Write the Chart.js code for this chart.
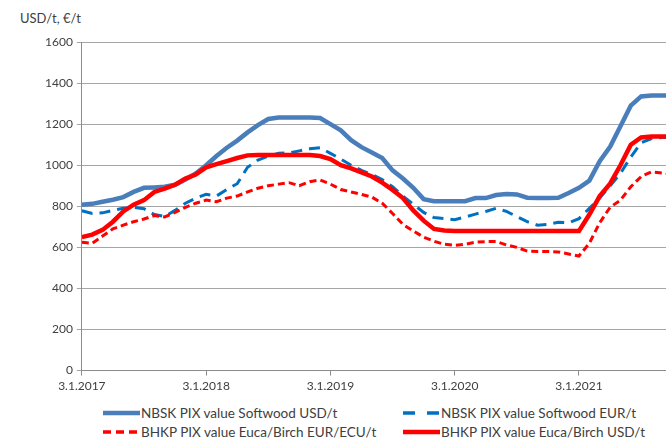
<!DOCTYPE html>
<html>
<head>
<meta charset="utf-8">
<script src="https://cdn.jsdelivr.net/npm/chart.js@4.4.0/dist/chart.umd.min.js"></script>
<style>
  html, body { margin: 0; padding: 0; background: #fff; overflow: hidden; }
  body { width: 666px; height: 439px; position: relative; font-family: Lato, sans-serif; color: #404040; }
  #chart { position: absolute; left: 0; top: 0; }
  #ytitle { position: absolute; left: 20px; top: 10px; font-size: 13px; }
  .leg { position: absolute; font-size: 13.5px; white-space: nowrap; display: flex; align-items: center; height: 16px; }
  .leg svg { margin-right: 1px; }
</style>
</head>
<body>
<div id="ytitle">USD/t, €/t</div>
<canvas id="chart" width="666" height="396"></canvas>
<div id="legend"></div>
<script>
// x axis: year positions and their labels
const yearTicks = [2017, 2018, 2019, 2020, 2021];
const tickLabels = ['3.1.2017', '3.1.2018', '3.1.2019', '3.1.2020', '3.1.2021'];

// monthly readings, Jan 2017 .. Oct 2021
const nbskUsd = [808, 812, 822, 832, 845, 870, 890, 892, 895, 905, 930, 960,
                 1000, 1045, 1085, 1120, 1160, 1195, 1225, 1232, 1232, 1232, 1232, 1230,
                 1200, 1170, 1122, 1088, 1062, 1035, 975, 935, 890, 835, 825, 825,
                 825, 825, 840, 840, 855, 860, 858, 842, 840, 840, 842, 865,
                 890, 925, 1020, 1090, 1190, 1290, 1335, 1340, 1340, 1340];
const nbskEur = [778, 765, 768, 780, 790, 795, 788, 760, 750, 780, 815, 840,
                 858, 850, 882, 910, 990, 1025, 1045, 1058, 1060, 1070, 1080, 1085,
                 1058, 1030, 1000, 975, 955, 930, 895, 850, 810, 770, 745, 740,
                 735, 748, 762, 775, 790, 775, 750, 725, 708, 712, 722, 720,
                 740, 790, 840, 900, 960, 1040, 1110, 1130, 1135, 1135];
const bhkpEur = [625, 620, 655, 690, 708, 725, 738, 755, 748, 770, 795, 815,
                 830, 822, 840, 850, 870, 888, 900, 908, 915, 900, 920, 928,
                 908, 882, 870, 858, 845, 815, 765, 712, 680, 650, 630, 615,
                 610, 615, 625, 628, 628, 612, 600, 582, 580, 580, 578, 568,
                 558, 620, 720, 795, 830, 895, 945, 968, 962, 955];
const bhkpUsd = [650, 662, 685, 725, 775, 808, 830, 870, 886, 905, 935, 955,
                 990, 1005, 1020, 1035, 1048, 1050, 1050, 1050, 1050, 1050, 1050, 1045,
                 1030, 1000, 985, 965, 945, 915, 880, 840, 780, 730, 690, 682,
                 680, 680, 680, 680, 680, 680, 680, 680, 680, 680, 680, 680,
                 680, 760, 850, 910, 1000, 1100, 1135, 1140, 1140, 1140];

const seriesNames = ['NBSK PIX value Softwood USD/t', 'NBSK PIX value Softwood EUR/t',
                     'BHKP PIX value Euca/Birch EUR/ECU/t', 'BHKP PIX value Euca/Birch USD/t'];

function toPoints(values) {
  return values.map((v, i) => ({ x: 2017 + i / 12, y: v }));
}

const gray = '#404040';
const tickFont = { family: 'Lato', size: 12 };

const ctx = document.getElementById('chart').getContext('2d');
const chart = new Chart(ctx, {
  type: 'line',
  data: {
    datasets: [
      { label: seriesNames[0], data: toPoints(nbskUsd), borderColor: '#4a7ebb', borderWidth: 4.5, order: 4 },
      { label: seriesNames[1], data: toPoints(nbskEur), borderColor: '#0070c0', borderWidth: 3,
        borderDash: [11, 7], order: 3 },
      { label: seriesNames[2], data: toPoints(bhkpEur), borderColor: '#ff0000', borderWidth: 3,
        borderDash: [7, 4], order: 2 },
      { label: seriesNames[3], data: toPoints(bhkpUsd), borderColor: '#ff0000', borderWidth: 4.5, order: 1 }
    ]
  },
  options: {
    responsive: false,
    animation: false,
    devicePixelRatio: 1,
    elements: { point: { radius: 0 }, line: { tension: 0, fill: false } },
    layout: { padding: { left: 41, top: 42, right: 0, bottom: 0 } },
    plugins: { legend: { display: false }, tooltip: { enabled: false } },
    scales: {
      x: {
        type: 'linear',
        min: 2017,
        max: 2021.7,
        afterBuildTicks: (axis) => { axis.ticks = yearTicks.map(v => ({ value: v })); },
        ticks: {
          callback: (v, i) => tickLabels[i],
          autoSkip: false, maxRotation: 0, color: gray, font: tickFont, padding: 3
        },
        grid: { drawOnChartArea: false, drawTicks: true, tickLength: 5, color: '#8c8c8c' },
        border: { color: '#8c8c8c' }
      },
      y: {
        min: 0,
        max: 1600,
        ticks: { stepSize: 200, color: gray, font: tickFont, padding: 4, callback: (v) => String(v) },
        grid: { color: '#a6a6a6', tickLength: 5 },
        border: { color: '#8c8c8c' }
      }
    }
  }
});

// legend, laid out like the original two-column block
const legendItems = [
  { name: seriesNames[0], color: '#4a7ebb', width: 4.5, dash: '', left: 103, top: 405 },
  { name: seriesNames[1], color: '#0070c0', width: 3.5, dash: '12 12', left: 403, top: 405 },
  { name: seriesNames[2], color: '#ff0000', width: 3.5, dash: '8 5', left: 103, top: 424 },
  { name: seriesNames[3], color: '#ff0000', width: 4.5, dash: '', left: 403, top: 424 }
];
const legend = document.getElementById('legend');
legendItems.forEach(item => {
  const div = document.createElement('div');
  div.className = 'leg';
  div.style.left = item.left + 'px';
  div.style.top = item.top + 'px';
  div.innerHTML = '<svg width="37" height="8"><line x1="0" y1="4" x2="37" y2="4" stroke="' + item.color +
    '" stroke-width="' + item.width + '"' + (item.dash ? ' stroke-dasharray="' + item.dash + '"' : '') +
    '/></svg><span>' + item.name + '</span>';
  legend.appendChild(div);
});
</script>
</body>
</html>
